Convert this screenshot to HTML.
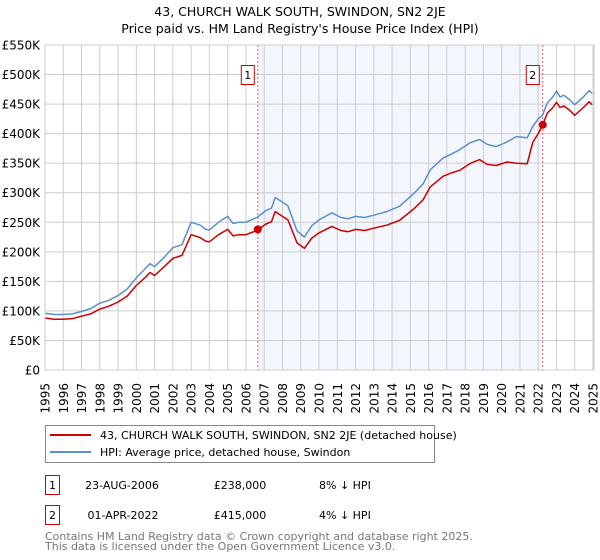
<!DOCTYPE html>
<html><head><meta charset="utf-8"><style>
body{margin:0;background:#fff;font-family:"DejaVu Sans","Liberation Sans",sans-serif;}
svg{display:block}
</style></head><body>
<svg id="chart" width="600" height="560" xmlns="http://www.w3.org/2000/svg">
<text x="300" y="16" text-anchor="middle" font-size="12.5" fill="#000">43, CHURCH WALK SOUTH, SWINDON, SN2 2JE</text>
<text x="300" y="33" text-anchor="middle" font-size="12.5" fill="#000">Price paid vs. HM Land Registry's House Price Index (HPI)</text>
<g id="plot"></g>
<g>
<rect x="45.5" y="425.5" width="389" height="37" fill="#fff" stroke="#888"/>
<line x1="50" y1="435" x2="91" y2="435" stroke="#cc0000" stroke-width="2"/>
<text x="100" y="439" font-size="11">43, CHURCH WALK SOUTH, SWINDON, SN2 2JE (detached house)</text>
<line x1="50" y1="452" x2="91" y2="452" stroke="#5b8fd0" stroke-width="2"/>
<text x="100" y="456" font-size="11">HPI: Average price, detached house, Swindon</text>
</g>
<g font-size="11">
<rect x="45.5" y="475.5" width="14" height="19" fill="#fff" stroke="#cc0000"/>
<text x="52.5" y="489" text-anchor="middle">1</text>
<text x="122" y="489" text-anchor="middle">23-AUG-2006</text>
<text x="240" y="489" text-anchor="middle">£238,000</text>
<text x="319" y="489">8% ↓ HPI</text>
<rect x="45.5" y="505.5" width="14" height="19" fill="#fff" stroke="#cc0000"/>
<text x="52.5" y="519" text-anchor="middle">2</text>
<text x="123" y="519" text-anchor="middle">01-APR-2022</text>
<text x="240" y="519" text-anchor="middle">£415,000</text>
<text x="319" y="519">4% ↓ HPI</text>
</g>
<text x="45" y="540" font-size="11" fill="#777">Contains HM Land Registry data © Crown copyright and database right 2025.</text>
<text x="45" y="550" font-size="11" fill="#777">This data is licensed under the Open Government Licence v3.0.</text>
</svg>
<script>
const hpiYears=[1995,1995.5,1996,1996.5,1997,1997.5,1998,1998.5,1999,1999.5,2000,2000.5,2000.75,2001,2001.5,2002,2002.5,2003,2003.5,2003.8,2004,2004.5,2005,2005.3,2005.6,2006,2006.6,2007.1,2007.4,2007.6,2008,2008.3,2008.8,2009.2,2009.6,2010,2010.7,2011.2,2011.6,2012,2012.5,2013,2013.7,2014.4,2015.2,2015.7,2016.1,2016.8,2017.3,2017.7,2018.3,2018.8,2019.2,2019.7,2020.3,2020.8,2021.4,2021.7,2022.0,2022.25,2022.5,2022.8,2023.0,2023.2,2023.4,2023.7,2024.0,2024.5,2024.8,2024.95];
const hpiValues=[96,94,94,95,99,104,113,118,126,137,156,172,180,175,190,207,212,250,245,238,237,250,260,248,250,250,258,270,274,292,284,278,235,225,244,254,266,258,256,260,258,262,268,277,299,315,339,359,366,373,385,390,382,378,386,395,393,412,425,432,452,462,472,462,465,458,449,463,473,468];
const priceValues=[88,86,86,87,91,95,103,108,115,125,143,157,165,160,174,189,194,229,224,218,217,229,238,227,229,229,236,247,251,268,260,254,215,206,223,232,243,236,234,238,236,240,245,253,273,288,310,328,334,338,350,356,348,346,352,350,349,385,400,415,435,444,453,444,447,440,431,445,454,449];
const saleDates=[2006.65,2022.25];
const salePrices=[238,415];
const yTicks=[0,50,100,150,200,250,300,350,400,450,500,550];
const yTickLabels=["£0","£50K","£100K","£150K","£200K","£250K","£300K","£350K","£400K","£450K","£500K","£550K"];
const xTicks=[1995,1996,1997,1998,1999,2000,2001,2002,2003,2004,2005,2006,2007,2008,2009,2010,2011,2012,2013,2014,2015,2016,2017,2018,2019,2020,2021,2022,2023,2024,2025];

const L=45,R=593,T=45,B=370;
const X=y=>L+(y-1995)/(2025-1995)*(R-L);
const Y=v=>B-v/550*(B-T);
const NS="http://www.w3.org/2000/svg";
const g=document.getElementById('plot');
function mk(tag,at){const e=document.createElementNS(NS,tag);for(const k in at)e.setAttribute(k,at[k]);g.appendChild(e);return e;}

let e=mk('rect',{x:X(saleDates[0]),y:T,width:X(saleDates[1])-X(saleDates[0]),height:B-T,fill:'#f3f6fd'});


xTicks.forEach(t=>{
  const l=mk('line',{x1:X(t),x2:X(t),y1:T,y2:B,stroke:'#ccc','stroke-width':1});
  
  
  const tx=mk('text',{x:0,y:0,'font-size':12,'text-anchor':'end',transform:`translate(${X(t)+4.5},383) rotate(-90)`});
  tx.textContent=t;
  
  
});
yTicks.forEach((t,i)=>{
  const l=mk('line',{x1:L,x2:R,y1:Y(t),y2:Y(t),stroke:'#ccc','stroke-width':1});
  
  
  const tx=mk('text',{x:40,y:Y(t)+4.5,'font-size':12,'text-anchor':'end'});
  tx.textContent=yTickLabels[i];
  
  
});
saleDates.forEach((d,i)=>{
  const l=mk('line',{x1:X(d),x2:X(d),y1:T,y2:B,stroke:'#e06060','stroke-dasharray':'2,2','stroke-width':1});
  
  
});
const hp=hpiYears.map((y,i)=>X(y).toFixed(1)+','+Y(hpiValues[i]).toFixed(1)).join(' ');
e=mk('polyline',{points:hp,fill:'none',stroke:'#5b8fd0','stroke-width':1.5,'stroke-linejoin':'round'});


const rp=hpiYears.map((y,i)=>X(y).toFixed(1)+','+Y(priceValues[i]).toFixed(1)).join(' ');
e=mk('polyline',{points:rp,fill:'none',stroke:'#cc0000','stroke-width':1.5,'stroke-linejoin':'round'});


saleDates.forEach((d,i)=>{
  const c=mk('circle',{cx:X(d),cy:Y(salePrices[i]),r:4,fill:'#cc0000'});
  
  
  const b=mk('rect',{x:X(d)-16.5,y:65.5,width:13,height:19,fill:'#fff',stroke:'#cc0000'});
  
  
  const t=mk('text',{x:X(d)-10,y:79,'font-size':11,'text-anchor':'middle'});
  t.textContent=String(i+1);
  
  
});
e=mk('rect',{x:L,y:T,width:R-L+1,height:B-T,fill:'none',stroke:'#ccc'});


</script>
</body></html>
